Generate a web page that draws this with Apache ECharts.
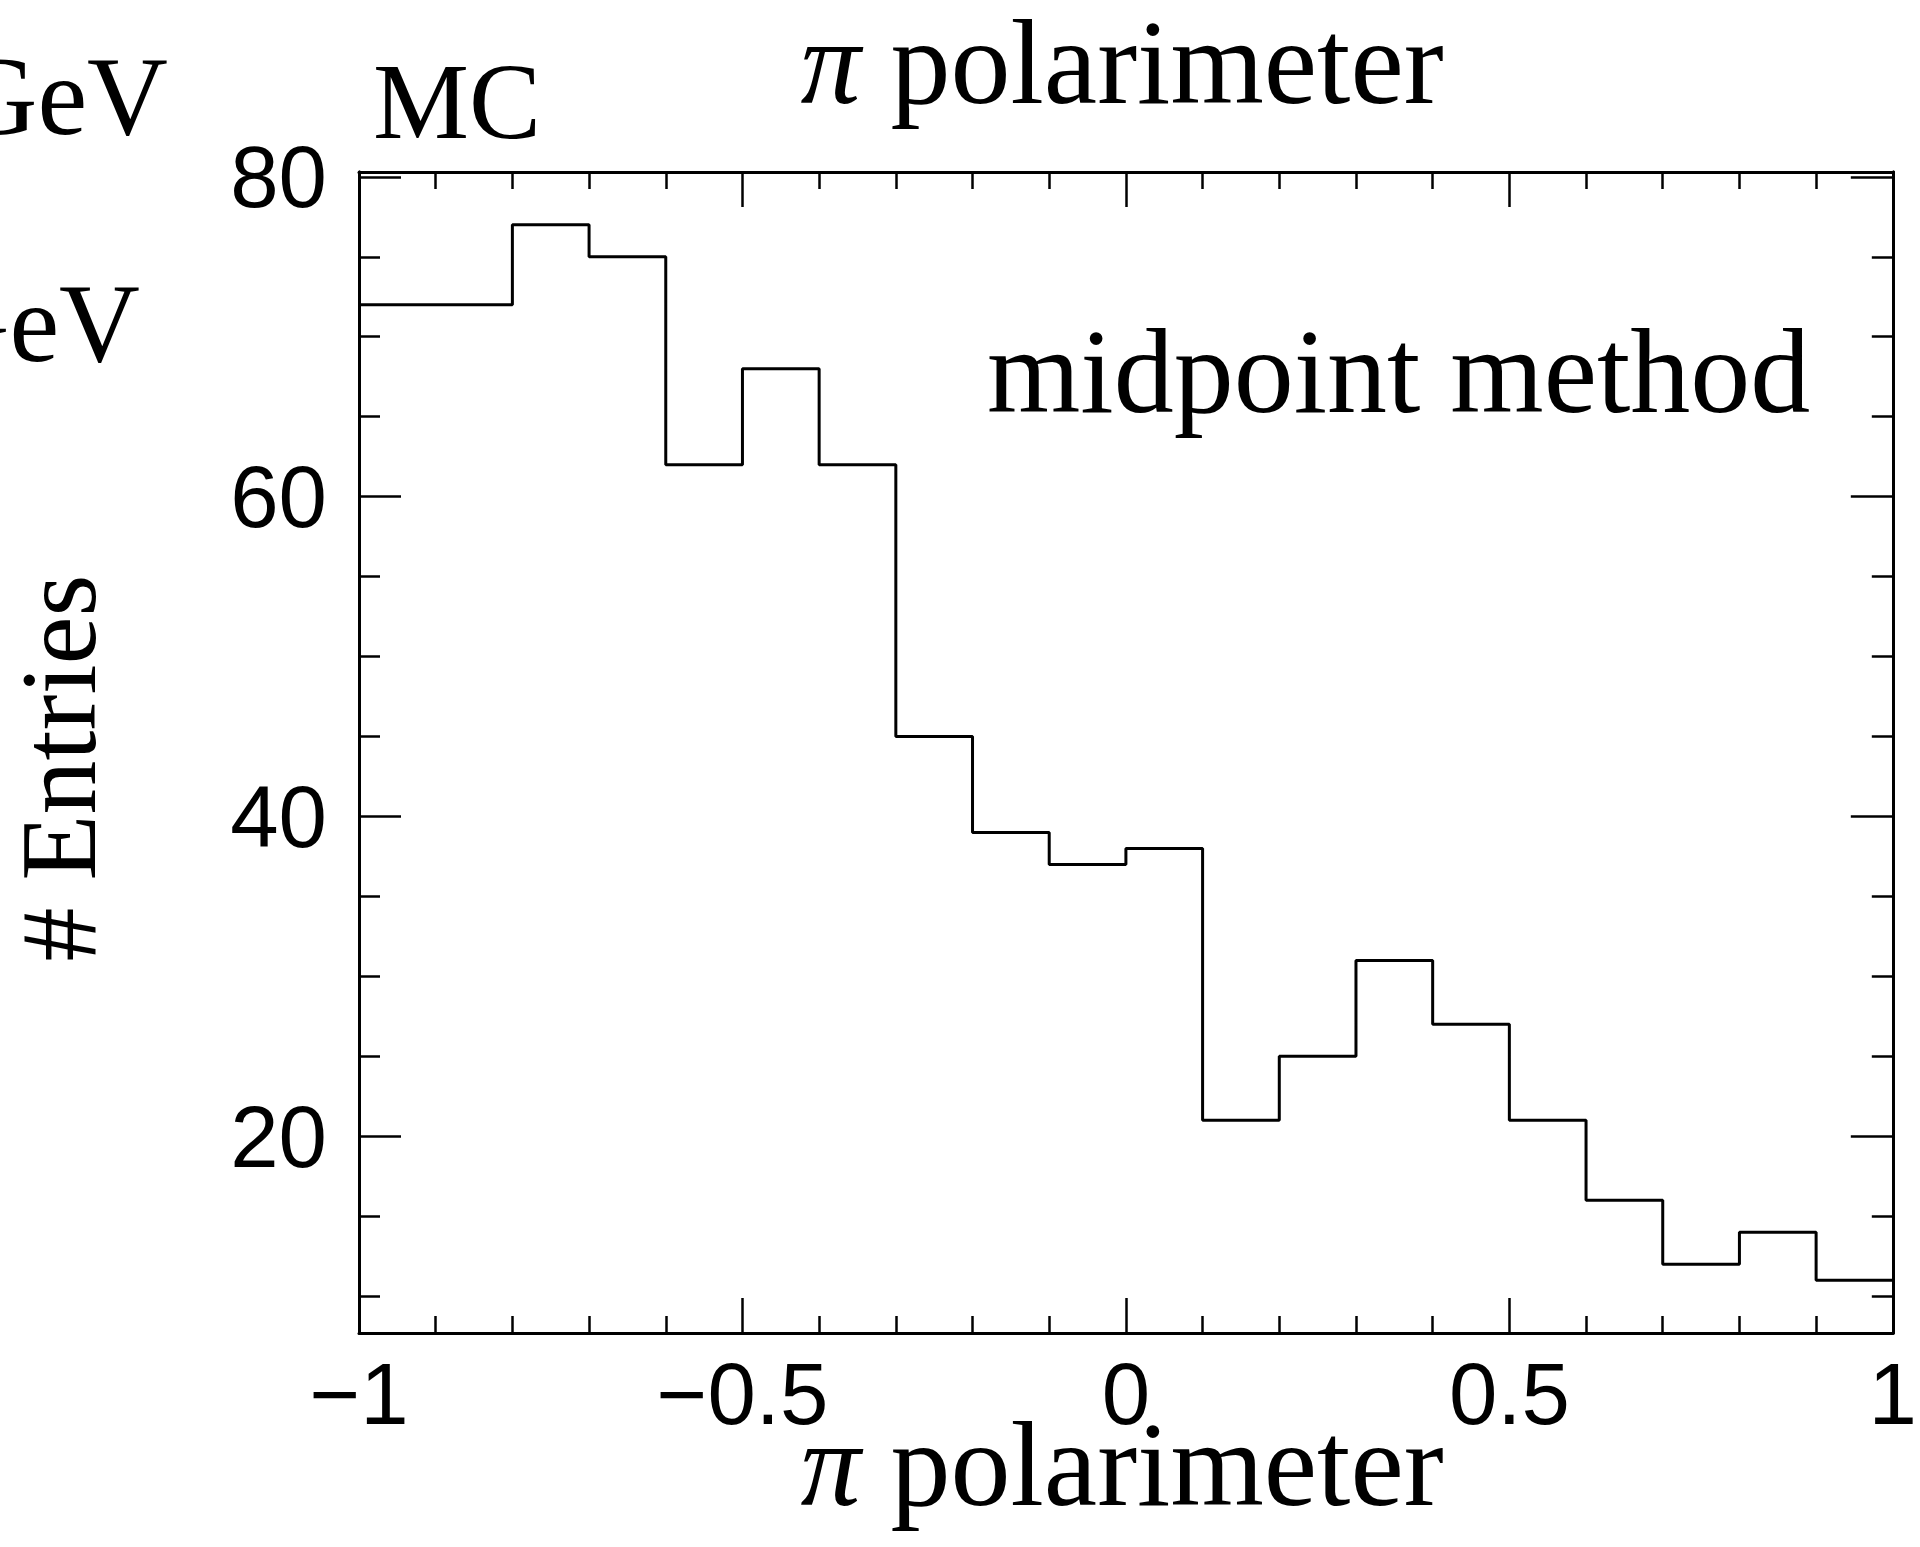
<!DOCTYPE html>
<html>
<head>
<meta charset="utf-8">
<script src="https://cdn.jsdelivr.net/npm/echarts@6/dist/echarts.min.js"></script>
<style>
html,body{margin:0;padding:0;background:#fff;}
#chart{width:1920px;height:1547px;}
</style>
</head>
<body>
<div id="chart"></div>
<script>
// ---- data ----
const binEdges = [-1.0,-0.9,-0.8,-0.7,-0.6,-0.5,-0.4,-0.3,-0.2,-0.1,0.0,0.1,0.2,0.3,0.4,0.5,0.6,0.7,0.8,0.9,1.0];
const entries  = [72,72,77,75,62,68,62,45,39,37,38,21,25,31,27,21,16,12,14,11];
const yMajorTicks = [20,40,60,80];
const yMinorTicks = [10,15,25,30,35,45,50,55,65,70,75];
const xRange = [-1, 1];
const yRange = [7.7, 80.3];
const titleText = 'polarimeter';
const xTitleText = 'polarimeter';
const yTitleText = '# Entries';
const sampleText = 'MC';
const methodText = 'midpoint method';
const cutTexts = ['GeV', 'GeV'];

// step outline points: each bin's left edge, plus the final right edge
const histPoints = entries.map((v, i) => [binEdges[i], v]);
histPoints.push([binEdges[binEdges.length - 1], entries[entries.length - 1]]);

const SERIF = '"Liberation Serif","Times New Roman",serif';
const SANS = '"Liberation Sans",Arial,Helvetica,sans-serif';
const LW = 3;
const TICK_FS = 87;

function fmtX(v) {
  const r = Math.round(v * 10) / 10;
  return (r < 0 ? '\u2212' : '') + Math.abs(r);
}

const chart = echarts.init(document.getElementById('chart'), null, {renderer: 'svg'});

const xCommon = {
  type: 'value', min: xRange[0], max: xRange[1], interval: 0.5,
  splitLine: {show: false},
  axisLine: {show: true, onZero: false, lineStyle: {color: '#000', width: LW}},
  axisTick: {show: true, inside: true, length: 35, lineStyle: {color: '#000', width: 2.5}},
  minorTick: {show: true, splitNumber: 5, length: 17, lineStyle: {color: '#000', width: 2.5}},
  minorSplitLine: {show: false}
};

function yAxisDef(position, ticks, len, labels) {
  return {
    type: 'value', position: position, min: yRange[0], max: yRange[1],
    splitLine: {show: false},
    axisLine: {show: true, onZero: false, lineStyle: {color: '#000', width: LW}},
    axisTick: {show: true, inside: true, length: len, customValues: ticks,
               lineStyle: {color: '#000', width: 2.5}},
    axisLabel: labels ? {show: true, customValues: ticks, margin: 32, color: '#000',
               fontSize: TICK_FS, fontFamily: SANS} : {show: false}
  };
}

function serifText(x, y, text, fs, align, extra) {
  const lh = Math.round(fs * 0.8);
  const el = {type: 'text', x: x, y: y, style: {
    text: text, align: align, verticalAlign: 'middle',
    fontSize: fs, fontFamily: SERIF, fill: '#000', lineHeight: lh,
    rich: {pi: {fontStyle: 'italic', fontSize: fs, fontFamily: SERIF, fill: '#000', lineHeight: lh}}}};
  return Object.assign(el, extra || {});
}

const option = {
  backgroundColor: '#fff',
  animation: false,
  grid: {left: 359, right: 14, top: 172, bottom: 214, containLabel: false},
  xAxis: [
    Object.assign({}, xCommon, {
      position: 'bottom',
      axisLabel: {show: true, margin: 17, color: '#000', fontSize: TICK_FS, fontFamily: SANS,
                  formatter: fmtX, showMinLabel: true, showMaxLabel: true}
    }),
    Object.assign({}, xCommon, {position: 'top', axisLabel: {show: false}})
  ],
  yAxis: [
    yAxisDef('left', yMajorTicks, 42, true),
    yAxisDef('left', yMinorTicks, 21, false),
    yAxisDef('right', yMajorTicks, 42, false),
    yAxisDef('right', yMinorTicks, 21, false)
  ],
  series: [{
    type: 'line', step: 'end', xAxisIndex: 0, yAxisIndex: 0,
    data: histPoints, symbol: 'none', clip: true,
    lineStyle: {color: '#000', width: LW}
  }],
  graphic: [
    serifText(1122, 62, '{pi|\u03c0} ' + titleText, 120, 'center'),
    serifText(1122, 1464, '{pi|\u03c0} ' + xTitleText, 120, 'center'),
    serifText(58, 768, yTitleText, 108, 'center', {rotation: Math.PI / 2}),
    serifText(373, 101, sampleText, 108, 'left'),
    serifText(987, 371, methodText, 120, 'left'),
    serifText(168, 96, cutTexts[0], 112, 'right'),
    serifText(140, 323, cutTexts[1], 112, 'right')
  ]
};
chart.setOption(option);
</script>
</body>
</html>
